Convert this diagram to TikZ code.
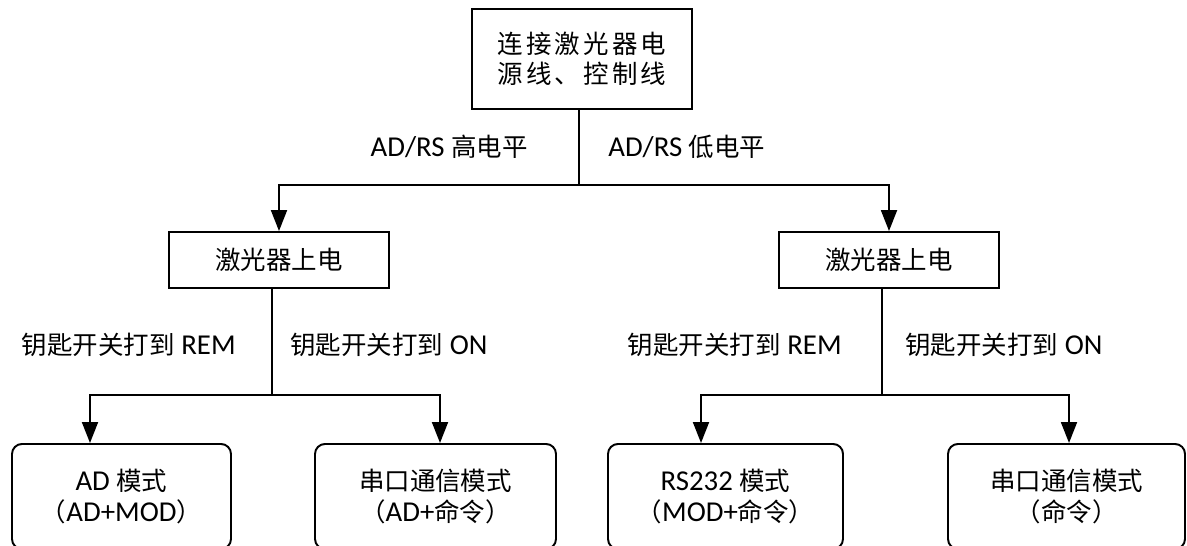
\documentclass[tikz,border=0pt]{standalone}
\usepackage{fontspec}
\setmainfont{Carlito}[Scale=1.13]
\newfontfamily\cjk{Noto Sans CJK SC}
\newfontfamily\cjkwide[LetterSpace=12]{Noto Sans CJK SC}
\newcommand{\zh}[1]{{\cjk #1}}
\usetikzlibrary{positioning,calc,arrows.meta}

\begin{document}
\begin{tikzpicture}[
    font=\fontsize{14.5}{18}\selectfont,
    box/.style={draw, line width=1.1pt, minimum width=4.4cm, minimum height=1.12cm, align=center},
    modebox/.style={draw, line width=1.1pt, rounded corners=0.2cm, minimum height=2.1cm, anchor=north, align=center},
    lbl/.style={inner sep=0pt},
    line/.style={line width=1.1pt},
    arr/.style={line width=1.1pt, -{Triangle[length=0.42cm,width=0.32cm]}}
]
    \clip (0,0) rectangle (23.74,-10.92);

    % start
    \node[box, minimum height=2cm, font=\fontsize{14.5}{17}\selectfont\cjkwide] (connect) at (11.64,-1.18) {连接激光器电\\源线、控制线};

    % power on
    \node[box] (powerA) at (5.58,-5.20) {\zh{激光器上电}};
    \node[box] (powerB) at (17.78,-5.20) {\zh{激光器上电}};

    % modes
    \node[modebox, minimum width=4.38cm] (adMode) at (2.43,-8.86) {AD \zh{模式}\\\zh{（}AD+MOD\zh{）}};
    \node[modebox, minimum width=4.82cm] (serialA) at (8.71,-8.86) {\zh{串口通信模式}\\\zh{（}AD+\zh{命令）}};
    \node[modebox, minimum width=4.70cm] (rsMode) at (14.51,-8.86) {RS232 \zh{模式}\\\zh{（}MOD+\zh{命令）}};
    \node[modebox, minimum width=4.74cm] (serialB) at (21.33,-8.86) {\zh{串口通信模式}\\\zh{（命令）}};

    % branch points
    \coordinate (split) at (11.58,-3.70);
    \coordinate (splitA) at (5.44,-7.90);
    \coordinate (splitB) at (17.64,-7.90);

    \draw[line] (connect.south -| split) -- (split);
    \draw[arr] (split) -| (powerA.north);
    \draw[arr] (split) -| (powerB.north);

    \draw[line] (powerA.south -| splitA) -- (splitA);
    \draw[arr] (splitA) -| ([xshift=-0.63cm]adMode.north);
    \draw[arr] (splitA) -| ([xshift=0.09cm]serialA.north);

    \draw[line] (powerB.south -| splitB) -- (splitB);
    \draw[arr] (splitB) -| ([xshift=-0.49cm]rsMode.north);
    \draw[arr] (splitB) -| ([xshift=0.05cm]serialB.north);

    % labels
    \node[lbl, anchor=east] (high) at (10.56,-2.94) {AD/RS \zh{高电平}};
    \node[lbl, anchor=west] (low) at (12.16,-2.94) {AD/RS \zh{低电平}};
    \node[lbl, anchor=east] (remA) at (4.72,-6.90) {\zh{钥匙开关打到} REM};
    \node[lbl, anchor=west] (onA) at (5.80,-6.90) {\zh{钥匙开关打到} ON};
    \node[lbl, anchor=east] (remB) at (16.84,-6.90) {\zh{钥匙开关打到} REM};
    \node[lbl, anchor=west] (onB) at (18.10,-6.90) {\zh{钥匙开关打到} ON};
\end{tikzpicture}
\end{document}
